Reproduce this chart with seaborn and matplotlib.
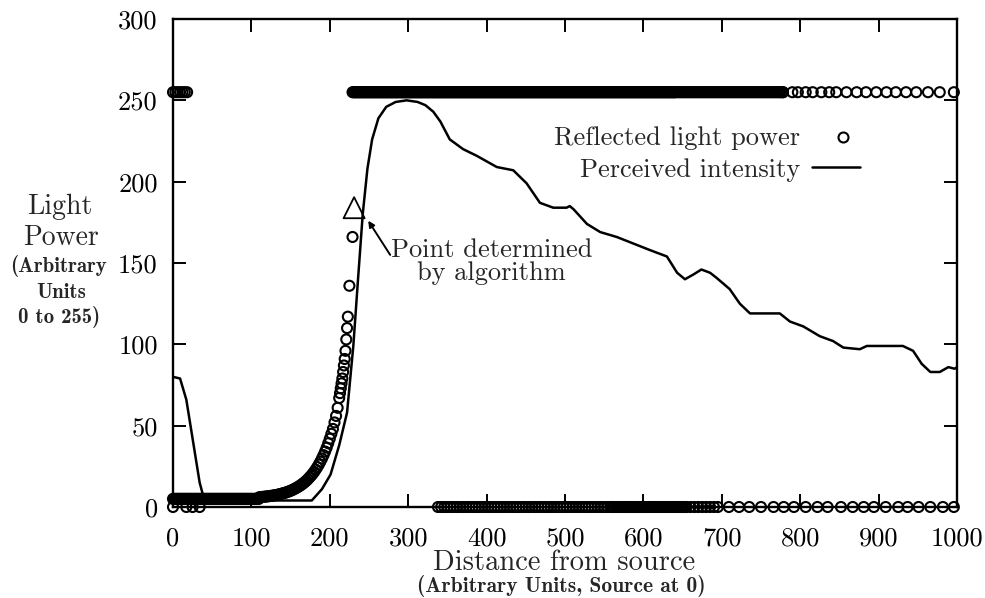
import numpy as np
import pandas as pd
import matplotlib
matplotlib.use("Agg")
import matplotlib.pyplot as plt
import seaborn as sns
from matplotlib.lines import Line2D

# ------------------------------------------------------------------ data
# Perceived intensity (solid line)
intensity_x = [0, 9, 17, 26, 34, 39, 44, 100, 177, 190, 201, 212, 222, 230, 236, 242, 248, 254, 262, 272,
               284, 298, 312, 322, 332, 341, 353, 370, 387, 413, 434, 451, 468, 485, 502, 506, 511, 528, 545, 566,
               587, 608, 630, 643, 653, 664, 674, 685, 693, 710, 723, 736, 774, 787, 804, 825, 842, 855, 876, 885,
               931, 944, 955, 966, 978, 989, 997, 1000]
intensity_y = [80, 79, 66, 39, 15, 6, 4, 4, 4, 11, 20, 38, 58, 99, 140, 180, 208, 226, 239, 246,
               249, 250, 249, 247, 243, 237, 226, 220, 216, 209, 207, 199, 187, 184, 184, 185, 183, 174, 169, 166,
               162, 158, 154, 144, 140, 143, 146, 144, 141, 134, 125, 119, 119, 114, 111, 105, 102, 98, 97, 99,
               99, 96, 88, 83, 83, 86, 85, 86]

# Reflected light power (circles)
# dense sampling runs: (start, stop, sample step, value)
reflect_runs = [(0, 110, 1.5, 5.0),
                (229, 640, 1.2, 255.0),
                (640, 780, 2.0, 255.0),
                (338, 560, 4.0, 0.0),
                (560, 655, 2.5, 0.0),
                (655, 700, 5.0, 0.0)]
# rising part near the edge
rise_x = [110, 112, 114, 116, 118, 120, 122, 124, 126, 128, 130, 132, 134, 136, 138, 140, 142, 144, 146, 148,
          150, 152, 154, 156, 158, 160, 162, 164, 166, 168, 170, 172, 174, 176, 178, 180, 182, 184, 186, 188,
          190, 192, 194, 196, 198, 200, 202, 204, 206, 208, 210, 212, 213, 214, 215, 216, 217, 218, 219, 220,
          221, 222, 223, 225, 229]
rise_y = [6.0, 6.1, 6.2, 6.3, 6.4, 6.5, 6.6, 6.8, 6.9, 7.1, 7.2, 7.4, 7.6, 7.9, 8.1, 8.4, 8.6, 8.9, 9.3, 9.6,
          10.0, 10.4, 10.9, 11.4, 11.9, 12.5, 13.1, 13.8, 14.5, 15.3, 16.1, 17.1, 18.1, 19.2, 20.3, 21.6, 23.0,
          24.5, 26.1, 27.9, 29.8, 31.9, 34.1, 36.5, 39.2, 42.0, 45, 48, 52, 56, 61, 67, 70, 73, 76, 79, 83, 87,
          91, 96, 103, 110, 117, 136, 166]
near_high_x = [0, 3, 6, 9, 12, 15, 18]          # value 255 near the source
near_zero_x = [0, 17, 25, 34]                   # value 0 near the source
far_high_x = [778, 790, 797, 807, 816, 827, 837, 846, 859, 872, 884, 897, 910, 922, 935, 948, 963, 978, 996]
far_zero_x = [709, 722, 735, 750, 766, 779, 792, 807, 822, 835, 852, 867, 881, 894, 909, 925, 937, 951,
              966, 982, 996]

# point determined by the algorithm
found_x = [231]
found_y = [184]

x_ticks = list(range(0, 1001, 100))
y_ticks = list(range(0, 301, 50))

# ------------------------------------------------------------------ build tables
px, py = [], []
for start, stop, step, val in reflect_runs:
    xs = np.arange(start, stop, step)
    px.extend(xs.tolist())
    py.extend([val] * len(xs))
px += rise_x
py += rise_y
px += near_high_x
py += [255.0] * len(near_high_x)
px += near_zero_x
py += [0.0] * len(near_zero_x)
px += far_high_x
py += [255.0] * len(far_high_x)
px += far_zero_x
py += [0.0] * len(far_zero_x)
reflect_df = pd.DataFrame({"distance": px, "power": py})
line_df = pd.DataFrame({"distance": intensity_x, "power": intensity_y})
found_df = pd.DataFrame({"distance": found_x, "power": found_y})

# ------------------------------------------------------------------ style
sns.set_style("ticks")
plt.rcParams["font.family"] = ["cmr10", "DejaVu Serif"]
plt.rcParams["mathtext.fontset"] = "cm"
plt.rcParams["axes.formatter.use_mathtext"] = True
plt.rcParams["axes.unicode_minus"] = False

fig = plt.figure(figsize=(9.85, 5.98), dpi=100)
ax = fig.add_axes([173 / 985, 1 - 507 / 598, (957 - 173) / 985, (507 - 19) / 598])

sns.lineplot(data=line_df, x="distance", y="power", color="black", linewidth=1.8,
             sort=False, estimator=None, ax=ax, zorder=3)
sns.scatterplot(data=reflect_df, x="distance", y="power", marker="o", s=52,
                edgecolor="black", linewidth=1.5, ax=ax, clip_on=False, zorder=4)
ax.collections[-1].set_facecolor("none")
sns.scatterplot(data=found_df, x="distance", y="power", marker="^", s=230,
                edgecolor="black", linewidth=1.3, ax=ax, clip_on=False, zorder=5)
ax.collections[-1].set_facecolor("none")

ax.set_xlim(0, 1000)
ax.set_ylim(0, 300)
ax.set_xticks(x_ticks)
ax.set_yticks(y_ticks)
ax.set_xticklabels([str(t) for t in x_ticks])
ax.set_yticklabels([str(t) for t in y_ticks])
ax.tick_params(axis="both", direction="in", length=9.5, width=1.4, top=True, right=True,
               labelsize=19, colors="black")
ax.tick_params(axis="x", pad=14)
ax.tick_params(axis="y", pad=11)
for sp in ax.spines.values():
    sp.set_linewidth(1.7)
    sp.set_color("black")
ax.set_xlabel("")
ax.set_ylabel("")

# annotation
ax.annotate("", xy=(249, 176), xytext=(277, 155),
            arrowprops=dict(arrowstyle="-|>", color="black", lw=1.4, mutation_scale=9,
                            shrinkA=0, shrinkB=0))
ax.text(406, 153.8, "Point determined", ha="center", va="baseline", fontsize=19)
ax.text(406, 139.6, "by algorithm", ha="center", va="baseline", fontsize=19)

# legend (gnuplot style, right-aligned labels with keys on the right)
ax.text(0.80, 0.742, "Reflected light power", transform=ax.transAxes, ha="right",
        va="baseline", fontsize=19)
ax.text(0.80, 0.677, "Perceived intensity", transform=ax.transAxes, ha="right",
        va="baseline", fontsize=19)
ax.add_line(Line2D([0.854], [0.758], transform=ax.transAxes, marker="o", markersize=7.2,
                   markerfacecolor="none", markeredgecolor="black", markeredgewidth=1.5,
                   linestyle="none"))
ax.add_line(Line2D([0.815, 0.876], [0.697, 0.697], transform=ax.transAxes, color="black",
                   linewidth=1.8))

# axis labels
fig.text(60 / 985, 1 - 207 / 598, "Light", ha="center", va="center", fontsize=20)
fig.text(61 / 985, 1 - 238 / 598, "Power", ha="center", va="center", fontsize=20)
fig.text(59 / 985, 1 - 266 / 598, "(Arbitrary", ha="center", va="center", fontsize=15,
         family="cmb10")
fig.text(61 / 985, 1 - 292 / 598, "Units", ha="center", va="center", fontsize=15,
         family="cmb10")
fig.text(59 / 985, 1 - 317 / 598, "0 to 255)", ha="center", va="center", fontsize=15,
         family="cmb10")
fig.text(564 / 985, 1 - 563 / 598, "Distance from source", ha="center", va="center", fontsize=20.5)
fig.text(561 / 985, 1 - 586 / 598, "(Arbitrary Units, Source at 0)", ha="center", va="center",
         fontsize=15.5, family="cmb10")

fig.savefig("out.png", dpi=100)
